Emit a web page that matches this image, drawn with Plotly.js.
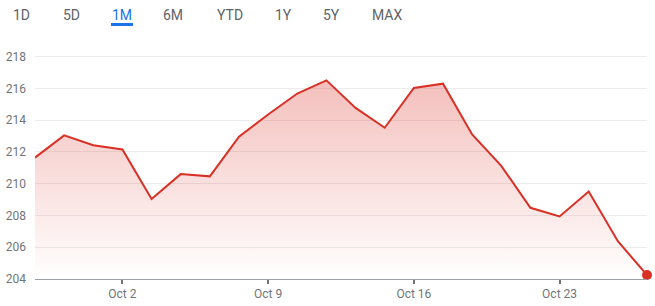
<!DOCTYPE html>
<html><head><meta charset="utf-8">
<script src="https://cdn.plot.ly/plotly-3.0.1.min.js"></script>
<style>html,body{margin:0;padding:0;background:#fff;}#c{width:655px;height:306px;}</style>
</head><body><div id="c"></div>
<script>
const dates = ["Sep 27","Sep 28","Sep 29","Oct 2","Oct 3","Oct 4","Oct 5","Oct 6","Oct 9","Oct 10","Oct 11","Oct 12","Oct 13","Oct 16","Oct 17","Oct 18","Oct 19","Oct 20","Oct 23","Oct 24","Oct 25","Oct 26"];
const prices = [211.64,213.04,212.42,212.15,209.04,210.60,210.46,212.96,214.35,215.67,216.50,214.77,213.52,216.02,216.29,213.10,211.12,208.48,207.94,209.50,206.38,204.25];
const tickLabels = ["Oct 2","Oct 9","Oct 16","Oct 23"];
const yTicks = [204,206,208,210,212,214,216,218];
const ranges = ["1D","5D","1M","6M","YTD","1Y","5Y","MAX"];
const activeRange = "1M";

const idx = dates.map((d,i)=>i);
const tickIdx = tickLabels.map(t=>dates.indexOf(t));
const W = 655, L = 35, R = 8;
const pw = W - L - R;
const tabX = [21, 71, 122, 173, 230, 283, 331, 387];
const px2paper = p => (p - L) / pw;

const annotations = ranges.map((r,i)=>({
  text: r, xref:'paper', yref:'paper', x: px2paper(tabX[i]), y: 1, yshift: 0,
  xanchor:'center', yanchor:'middle', showarrow:false, yref:'paper',
  font:{family:'Roboto, Arial, sans-serif', size:14, color: r===activeRange ? '#1a73e8' : '#5f6368'}
}));
// place tabs in pixel space above plot: plot top at 47px, tabs at 15px -> yshift
annotations.forEach(a=>{a.yshift = 47-15;});
const ai = ranges.indexOf(activeRange);
const shapes = [{
  type:'line', xref:'paper', yref:'paper',
  x0: px2paper(tabX[ai]-11), x1: px2paper(tabX[ai]+11), y0:1, y1:1,
  ysizemode:'pixel', yanchor:1, y0:47-24.5, y1:47-24.5,
  line:{color:'#1a73e8', width:3}
}];

const trace = {
  x: idx, y: prices, type:'scatter', mode:'lines',
  line:{color:'#d93025', width:2},
  fill:'tozeroy',
  fillgradient:{type:'vertical', start:204, stop:217,
    colorscale:[[0,'rgba(217,48,37,0)'],[1,'rgba(217,48,37,0.32)']]},
  hoverinfo:'skip', cliponaxis:false
};
const last = {
  x:[idx[idx.length-1]], y:[prices[prices.length-1]], type:'scatter', mode:'markers',
  marker:{color:'#d93025', size:10}, cliponaxis:false, hoverinfo:'skip'
};

Plotly.newPlot('c',[trace,last],{
  width:655, height:306,
  margin:{l:L, r:R, t:47, b:27},
  paper_bgcolor:'#fff', plot_bgcolor:'#fff',
  showlegend:false,
  font:{family:'Roboto, Arial, sans-serif', size:12, color:'#70757a'},
  xaxis:{range:[0, dates.length-1], tickvals:tickIdx, ticktext:tickLabels,
    showgrid:false, zeroline:false, showline:true, linecolor:'#9aa0a6', linewidth:1,
    ticks:'outside', ticklen:4, tickwidth:2, tickcolor:'#70757a',
    tickfont:{size:12, color:'#70757a'}, fixedrange:true},
  yaxis:{range:[204,218.6], tickvals:yTicks, showgrid:true, gridcolor:'#ececec', gridwidth:1,
    zeroline:false, showline:false, ticks:'', ticklabelstandoff:8,
    tickfont:{size:12, color:'#70757a'}, fixedrange:true},
  annotations: annotations,
  shapes: shapes
},{displayModeBar:false, staticPlot:true});
</script></body></html>
